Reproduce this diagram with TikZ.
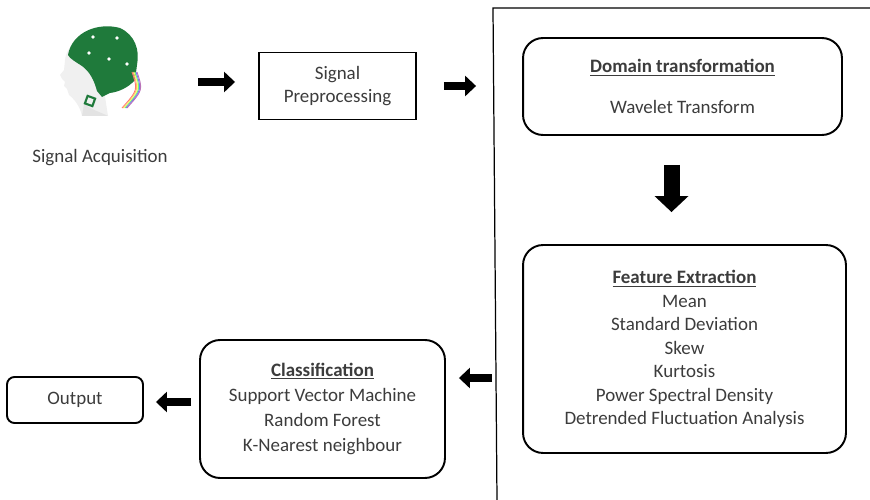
\documentclass[tikz,border=0pt]{standalone}
\usepackage{fontspec}
\setmainfont{Carlito}
\usepackage{tikz}
\usetikzlibrary{arrows.meta,calc,positioning}

\definecolor{txtgrey}{HTML}{3C3C3C}
\definecolor{capgreen}{HTML}{1F7A3B}

\begin{document}
\begin{tikzpicture}[x=0.02cm,y=-0.02cm,
        font=\fontsize{10.8}{13.4}\selectfont, text=txtgrey,
        plainbox/.style={draw=black, line width=1.1pt, align=center, inner sep=0pt},
        roundbox/.style={draw=black, line width=1.1pt, rounded corners=0.4cm, align=center, inner sep=0pt},
        fatarrow/.style={line width=0.17cm, -{Triangle[length=0.22cm,width=0.4cm]}},
        bigarrow/.style={line width=0.32cm, -{Triangle[length=0.32cm,width=0.66cm]}}]
        \useasboundingbox (0,0) rectangle (870,500);

        % EEG cap on a head
        \fill[gray!12] (82,116) .. controls (80,106) and (74,99) .. (69,95) -- (67,89) -- (64,86)
            -- (65,82) -- (62,79) -- (60,75) -- (64,70) -- (65,60)
            .. controls (66,50) and (72,44) .. (80,40) -- (104,90) -- (108,116) -- cycle;
        \fill[gray!22] (84,104) .. controls (92,110) and (100,112) .. (108,116) -- (82,116) -- cycle;
        \fill[capgreen] (68,55) .. controls (72,32) and (98,22) .. (120,28)
            .. controls (135,35) and (140,50) .. (137,65) -- (135,80)
            .. controls (128,88) and (118,92) .. (110,93) -- (102,97) -- (97,91)
            .. controls (94,80) and (90,72) .. (82,66) .. controls (76,62) and (70,59) .. (68,55) -- cycle;
        \foreach \dx/\dy in {93/37, 117/38, 89/53, 109/59, 127/64} {
            \fill[white] (\dx,\dy) circle (1.8);
        }
        \foreach \c [count=\i] in {red,orange,yellow,green,blue,violet} {
            \draw[\c!55, line width=0.5pt] (131+\i,72) .. controls (137+\i,90) .. (121+\i,108);
        }
        \draw[capgreen, line width=1.2pt, rotate around={-20:(90,101)}] (86,97) rectangle (94,105);
        \node[minimum size=1.8cm, inner sep=0pt] (head) at (100,82) {};
        \node (acqlabel) at (100,158) {Signal Acquisition};

        % boxes
        \node[plainbox, minimum width=3.14cm, minimum height=1.34cm] (pre) at (337.5,86)
            {Signal\\Preprocessing};
        \node[roundbox, minimum width=6.38cm, minimum height=1.94cm] (dom) at (682.5,86.5)
            {\underline{\textbf{Domain transformation}}\\[10pt]Wavelet Transform};
        \node[roundbox, minimum width=6.46cm, minimum height=4.16cm] (feat) at (684.5,349)
            {\underline{\textbf{Feature Extraction}}\\Mean\\Standard Deviation\\Skew\\Kurtosis\\
             Power Spectral Density\\Detrended Fluctuation Analysis};
        \node[roundbox, minimum width=4.9cm, minimum height=2.76cm] (cls) at (322.5,409)
            {\underline{\textbf{Classification}}\\[1pt]Support Vector Machine\\[1pt]Random Forest\\[1pt]
             K-Nearest neighbour};
        \node[plainbox, rounded corners=0.15cm, minimum width=2.72cm, minimum height=0.92cm] (out)
            at (75,400) {Output};

        % frame round the feature stage
        \draw[line width=0.7pt] (870,8) -- (493,8) -- (497,500);

        % arrows
        \draw[fatarrow, shorten <=1.06cm, shorten >=0.46cm] (head.east) -- (head.east -| pre.west);
        \draw[fatarrow, shorten <=0.54cm, shorten >=0.92cm] (pre.east) -- (pre.east -| dom.west);
        \draw[bigarrow, shorten <=0.58cm, shorten >=0.64cm] ([xshift=-0.22cm]dom.south) -- ([xshift=-0.22cm]dom.south |- feat.north);
        \draw[fatarrow, shorten <=0.6cm, shorten >=0.26cm] ([yshift=0.62cm]cls.east -| feat.west) -- ([yshift=0.62cm]cls.east);
        \draw[fatarrow, shorten <=0.16cm, shorten >=0.24cm] ([yshift=0.14cm]cls.west) -- ([yshift=0.14cm]cls.west -| out.east);
    \end{tikzpicture}
\end{document}
